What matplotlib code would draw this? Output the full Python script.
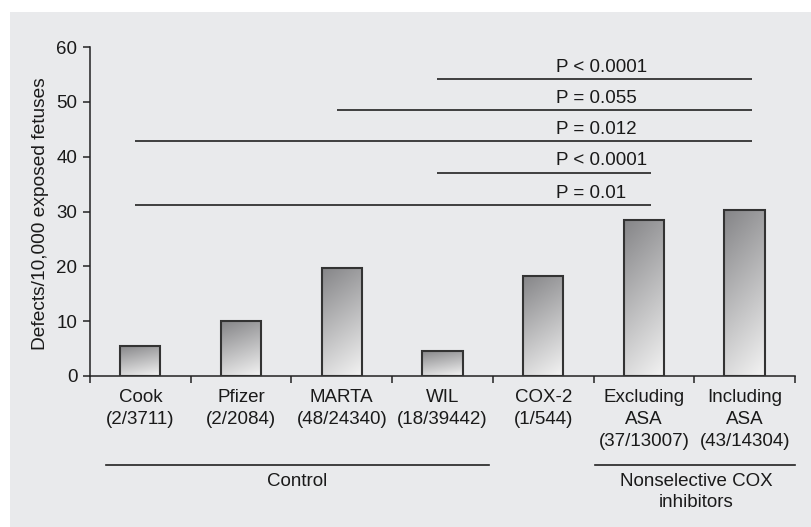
import numpy as np
import matplotlib
matplotlib.use("Agg")
import matplotlib.pyplot as plt
from matplotlib.patches import Rectangle

plt.rcParams['font.family'] = ['Liberation Sans', 'DejaVu Sans']

# Groups and rates (defects per 10,000 exposed fetuses)
names = ["Cook", "Pfizer", "MARTA", "WIL", "COX-2", "Excluding\nASA", "Including\nASA"]
counts = ["(2/3711)", "(2/2084)", "(48/24340)", "(18/39442)", "(1/544)", "(37/13007)", "(43/14304)"]
rates = [5.5, 10.0, 19.7, 4.6, 18.3, 28.5, 30.2]

# Pairwise comparisons: (start index, end index, height, label)
comp_start = [3, 2, 0, 3, 0]
comp_end = [6, 6, 6, 5, 5]
comp_y = [54.2, 48.5, 42.9, 37.1, 31.2]
comp_text = ["P < 0.0001", "P = 0.055", "P = 0.012", "P < 0.0001", "P = 0.01"]

yticks = [0, 10, 20, 30, 40, 50, 60]

W, H = 812, 527
fig = plt.figure(figsize=(W / 100, H / 100), dpi=100)
fig.patch.set_facecolor("white")
bg_color = "#e9eaec"
fig.patches.append(Rectangle((10 / W, 0), 1 - 10 / W, 1 - 12 / H,
                             transform=fig.transFigure, facecolor=bg_color,
                             edgecolor="none", zorder=-10))

ax = fig.add_axes([90 / W, 1 - 376 / H, 705 / W, 329 / H])
ax.set_zorder(1)
ax.set_facecolor("none")
ax.set_xlim(-0.5, 6.5)
ax.set_ylim(0, 60)

for s in ["top", "right"]:
    ax.spines[s].set_visible(False)
for s in ["left", "bottom"]:
    ax.spines[s].set_color("#222222")
    ax.spines[s].set_linewidth(1.1)

ax.set_yticks(yticks)
ax.tick_params(axis="y", direction="out", length=5, width=1.1, color="#222222",
               labelsize=13.5, pad=4, labelcolor="#1a1a1a")
ax.set_xticks(np.arange(-0.5, 7.0, 1.0))
ax.set_xticklabels([])
ax.tick_params(axis="x", direction="out", length=5, width=1.1, color="#222222")

ax.set_ylabel("Defects/10,000 exposed fetuses", fontsize=13.8, color="#1a1a1a")
ax.yaxis.set_label_coords(-0.058, 0.494)

# Bars with a gradient fill
bar_w = 0.4
dark = np.array([0.52, 0.52, 0.53])
light = np.array([0.955, 0.955, 0.955])
u = np.linspace(0, 1, 60)
v = np.linspace(0, 1, 200)
U, V = np.meshgrid(u, v)
for i, r in enumerate(rates):
    bars = ax.bar(i, r, width=bar_w, facecolor="none", edgecolor="#333333",
                  linewidth=1.5, zorder=3)
    t = np.clip(0.78 * V + 0.22 * (1 - U), 0, 1)
    img = light[None, None, :] + (dark - light)[None, None, :] * t[..., None]
    im = ax.imshow(img, extent=(i - bar_w / 2, i + bar_w / 2, 0, r),
                   origin="lower", aspect="auto", zorder=2, interpolation="bilinear")
    im.set_clip_path(bars[0])

ax.set_xlim(-0.5, 6.5)
ax.set_ylim(0, 60)

# Comparison lines with p-values
for s, e, y, txt in zip(comp_start, comp_end, comp_y, comp_text):
    ax.plot([s - 0.05, e + 0.07], [y, y], color="#222222", lw=1.2,
            solid_capstyle="butt", clip_on=False, zorder=4)
    ax.text(4.13, y + 1.3, txt, ha="left", va="baseline", fontsize=13.5,
            color="#1a1a1a", clip_on=False)

# Category labels below the axis
px = 1 / 5.483
for i, (n, c) in enumerate(zip(names, counts)):
    ax.text(i, -(389 - 376) * px, n + "\n" + c, ha="center", va="top",
            fontsize=13.5, linespacing=1.38, color="#1a1a1a", clip_on=False)

# Group brackets
gy = -(465 - 376) * px
ax.plot([-0.34, 3.46], [gy, gy], color="#222222", lw=1.2, clip_on=False)
ax.plot([4.51, 6.5], [gy, gy], color="#222222", lw=1.2, clip_on=False)
ax.text(1.56, gy - 7.5 * px, "Control", ha="center", va="top", fontsize=13.5,
        color="#1a1a1a", clip_on=False)
ax.text(5.52, gy - 7.5 * px, "Nonselective COX\ninhibitors", ha="center", va="top",
        fontsize=13.5, linespacing=1.38, color="#1a1a1a", clip_on=False)

fig.savefig("out.png", dpi=100, facecolor=fig.get_facecolor())
